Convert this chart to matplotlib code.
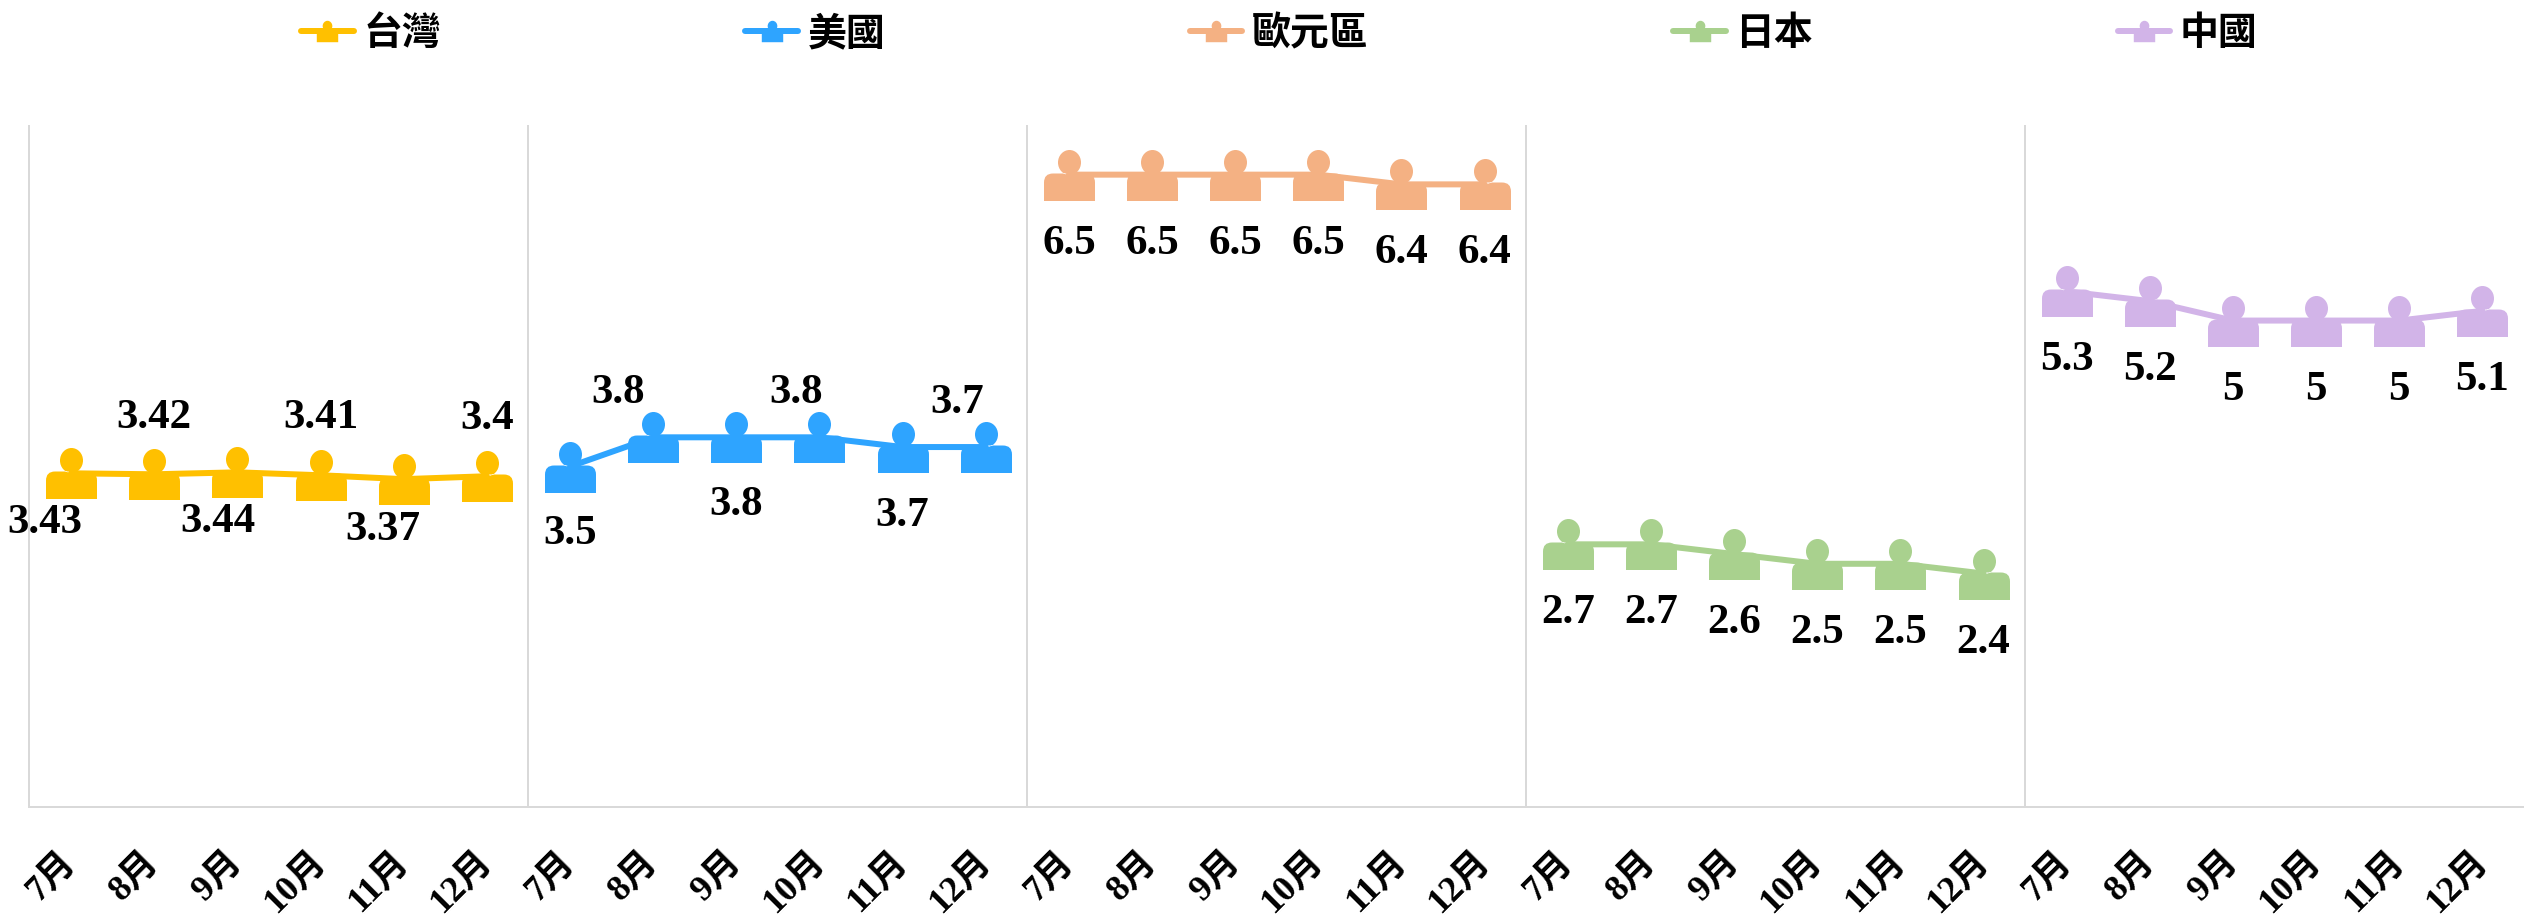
#!/usr/bin/env python3
# -*- coding:utf-8 -*-
import matplotlib
matplotlib.use('Agg')
import numpy as np
import matplotlib.pyplot as plt
from matplotlib.path import Path

plt.rcParams['font.family'] = ['Liberation Serif', 'Noto Sans CJK TC', 'DejaVu Sans']

months = ['7月', '8月', '9月', '10月', '11月', '12月']
names = ['台灣', '美國', '歐元區', '日本', '中國']
colors = ['#FFC000', '#2EA4FF', '#F4B183', '#A9D18E', '#D2B4E8']

taiwan = [3.43, 3.42, 3.44, 3.41, 3.37, 3.4]
usa = [3.5, 3.8, 3.8, 3.8, 3.7, 3.7]
euro = [6.5, 6.5, 6.5, 6.5, 6.4, 6.4]
japan = [2.7, 2.7, 2.6, 2.5, 2.5, 2.4]
china = [5.3, 5.2, 5, 5, 5, 5.1]
series = [taiwan, usa, euro, japan, china]

# 数据标签相对数据点的偏移(像素)
below = (0, -69)
taiwan_off = [(-26, -50), (0, 56), (-19, -50), (0, 57), (-21, -51), (0, 57)]
usa_off = [(0, -67), (-35, 44), (0, -68), (-23, 44), (0, -69), (-29, 44)]
offsets = [taiwan_off, usa_off, [below] * 6, [below] * 6, [below] * 6]


def person_marker():
    # 人形标记：上面椭圆头，下面圆角身体，数据点在脖子处
    k = 0.5523
    hx, hy, hc = 11.5, 12.5, 13.0
    head = [(0, hc + hy),
            (k * hx, hc + hy), (hx, hc + k * hy), (hx, hc),
            (hx, hc - k * hy), (k * hx, hc - hy), (0, hc - hy),
            (-k * hx, hc - hy), (-hx, hc - k * hy), (-hx, hc),
            (-hx, hc + k * hy), (-k * hx, hc + hy), (0, hc + hy)]
    head_code = [Path.MOVETO] + [Path.CURVE4] * 12
    w, r, top, bot = 25.5, 9.0, 2.0, -25.5
    body = [(-w, bot), (w, bot), (w, top - r), (w, top), (w - r, top),
            (-w + r, top), (-w, top), (-w, top - r), (-w, bot)]
    body_code = [Path.MOVETO, Path.LINETO, Path.LINETO, Path.CURVE3, Path.CURVE3,
                 Path.LINETO, Path.CURVE3, Path.CURVE3, Path.CLOSEPOLY]
    return Path(head + body, head_code + body_code)


dpi = 100
px = 72 / dpi
marker = person_marker()
fig, axs = plt.subplots(1, 5, sharey=True, figsize=(25.24, 9.22), dpi=dpi)
plt.subplots_adjust(left=29.5 / 2524, right=1, top=1 - 126 / 922, bottom=1 - 807 / 922, wspace=0)

x = np.arange(len(months))
for i, ax in enumerate(axs):
    ax.plot(x, series[i], color=colors[i], lw=6 * px, marker=marker, ms=51 * px,
            mew=0, label=names[i], clip_on=False, solid_capstyle='round')
    for j, val in enumerate(series[i]):
        ax.annotate(str(val), (x[j], val), xytext=(offsets[i][j][0] * px, offsets[i][j][1] * px),
                    textcoords='offset points', ha='center', va='center',
                    fontsize=31, fontweight='bold', color='black')
    ax.set_xlim(-0.5, 5.5)
    ax.set_ylim(0, 7)
    ax.set_xticks(x)
    ax.set_xticklabels(months, rotation=45, ha='right', va='center', rotation_mode='anchor',
                       fontsize=26, fontweight='bold')
    ax.tick_params(axis='x', length=0, pad=36)
    ax.tick_params(axis='y', left=False, labelleft=False)
    for side in ['top', 'right']:
        ax.spines[side].set_visible(False)
    for side in ['left', 'bottom']:
        ax.spines[side].set_color('#D9D9D9')
        ax.spines[side].set_linewidth(2 * px)

handles = [ax.get_lines()[0] for ax in axs]
fig.legend(handles, names, ncol=5, loc='upper left', bbox_to_anchor=(301 / 2524, 1 - 14 / 922),
           frameon=False, markerscale=0.42, handlelength=1.35, handletextpad=0.25,
           columnspacing=7.83, borderpad=0, borderaxespad=0,
           prop={'family': ['Noto Sans CJK TC'], 'size': 28, 'weight': 'bold'})

plt.savefig('out.png', dpi=dpi)
